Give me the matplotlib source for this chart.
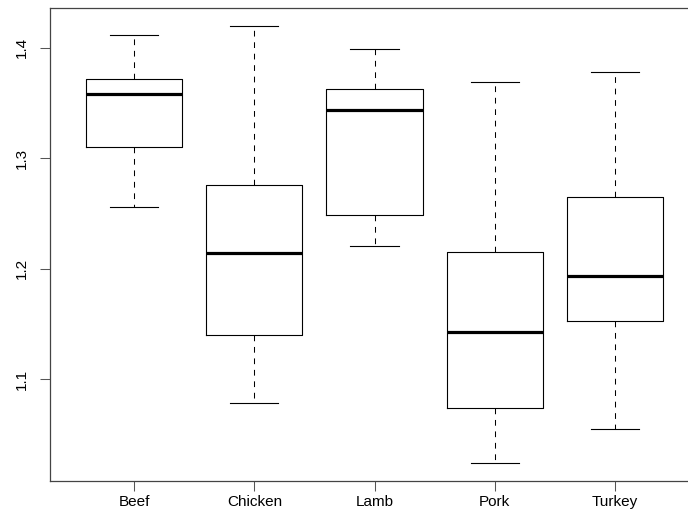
import matplotlib

matplotlib.use("Agg")
import matplotlib.pyplot as plt

plt.rcParams["font.family"] = ["Liberation Sans", "DejaVu Sans"]

# five-number summaries per meat type
categories = ["Beef", "Chicken", "Lamb", "Pork", "Turkey"]
whisker_low = [1.256, 1.079, 1.221, 1.024, 1.0555]
q1 = [1.310, 1.140, 1.2484, 1.0745, 1.1532]
median = [1.358, 1.2143, 1.344, 1.1426, 1.1938]
q3 = [1.372, 1.2755, 1.3626, 1.215, 1.2647]
whisker_high = [1.411, 1.420, 1.3987, 1.369, 1.3777]
y_ticks = [1.1, 1.2, 1.3, 1.4]

stats = []
for name, lo, a, m, b, hi in zip(categories, whisker_low, q1, median, q3, whisker_high):
    stats.append({"label": name, "whislo": lo, "q1": a, "med": m, "q3": b, "whishi": hi, "fliers": []})

fig = plt.figure(figsize=(6.88, 5.24), dpi=100)
ax = fig.add_axes([50 / 688, 43 / 524, 649 / 688, 473 / 524])

positions = list(range(1, len(categories) + 1))
ax.bxp(
    stats,
    positions=positions,
    widths=0.8,
    capwidths=0.4,
    showfliers=False,
    boxprops=dict(color="black", linewidth=0.8),
    medianprops=dict(color="black", linewidth=2.3, solid_capstyle="butt"),
    whiskerprops=dict(color="black", linewidth=0.75, linestyle=(0, (5.5, 5.5))),
    capprops=dict(color="black", linewidth=0.8),
)

lo_all, hi_all = min(whisker_low), max(whisker_high)
span = hi_all - lo_all
ax.set_ylim(lo_all - 0.04 * span, hi_all + 0.04 * span)
ax.set_xlim(0.3, len(categories) + 0.7)

ax.set_yticks(y_ticks)
ax.set_yticklabels([f"{t:.1f}" for t in y_ticks], rotation=90, va="center")
ax.set_xticks(positions)
ax.set_xticklabels(categories)
ax.tick_params(axis="both", labelsize=11, length=7, width=0.75, color="#555555")
ax.tick_params(axis="y", pad=8)
ax.tick_params(axis="x", pad=3)

for spine in ax.spines.values():
    spine.set_linewidth(0.9)
    spine.set_color("#444444")

fig.savefig("out.png", dpi=100)
